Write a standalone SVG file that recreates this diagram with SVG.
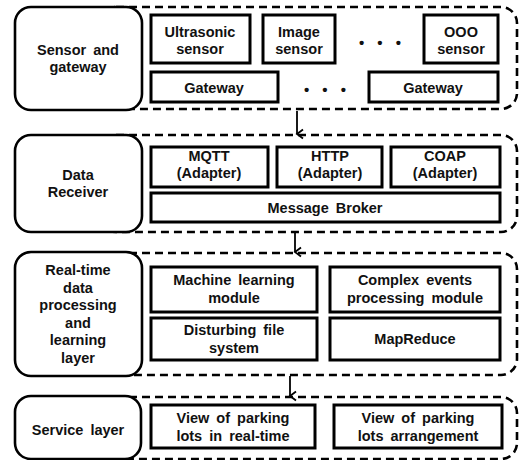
<svg xmlns="http://www.w3.org/2000/svg" width="521" height="460" viewBox="0 0 521 460">
<defs>
<marker id="ah" markerWidth="12" markerHeight="12" refX="6" refY="10" orient="auto" markerUnits="userSpaceOnUse" viewBox="0 0 12 12">
<path d="M1.5,4 L6,10 L10.5,4" fill="none" stroke="#000" stroke-width="1.8"/>
</marker>
</defs>
<style>
.dash{fill:none;stroke:#000;stroke-width:2.6;stroke-dasharray:8 5}
.lay{fill:#fff;stroke:#000;stroke-width:2.6}
.box{fill:#fff;stroke:#000;stroke-width:3}
text{font-family:"Liberation Sans",Arial,sans-serif;font-weight:bold;font-size:14.5px;text-anchor:middle;fill:#111;word-spacing:3px}
.dots{font-size:15px;word-spacing:9px}
.con{fill:none;stroke:#000;stroke-width:1.8}
</style>
<rect width="521" height="460" fill="#fff"/>
<g id="frames">
<rect class="dash" x="100" y="7" width="417" height="102" rx="16"/>
<rect class="dash" x="100" y="135" width="417" height="97" rx="16"/>
<rect class="dash" x="100" y="253" width="417" height="122" rx="16"/>
<rect class="dash" x="100" y="397" width="417" height="62" rx="16"/>
</g>
<g id="connectors">
<line class="con" x1="297" y1="111" x2="297" y2="134" marker-end="url(#ah)"/>
<line class="con" x1="295" y1="233" x2="295" y2="252" marker-end="url(#ah)"/>
<line class="con" x1="290" y1="376" x2="290" y2="396" marker-end="url(#ah)"/>
</g>
<g id="sensor-gateway">
<rect class="lay" x="15" y="7" width="127" height="103" rx="16"/>
<text x="78" y="55">Sensor and</text><text x="78" y="72">gateway</text>
</g>
<g id="ultrasonic"><rect class="box" x="151" y="15" width="99" height="48"/><text x="200" y="37">Ultrasonic</text><text x="200" y="54">sensor</text></g>
<g id="image"><rect class="box" x="263" y="15" width="72" height="48"/><text x="299" y="37">Image</text><text x="299" y="54">sensor</text></g>
<g id="dots1"><text class="dots" x="380" y="48">• • •</text></g>
<g id="ooo"><rect class="box" x="424" y="15" width="74" height="48"/><text x="461" y="37">OOO</text><text x="461" y="54">sensor</text></g>
<g id="gateway1"><rect class="box" x="151" y="72" width="127" height="30"/><text x="214" y="93">Gateway</text></g>
<g id="dots2"><text class="dots" x="325" y="95">• • •</text></g>
<g id="gateway2"><rect class="box" x="369" y="72" width="129" height="30"/><text x="433" y="93">Gateway</text></g>

<g id="data-receiver">
<rect class="lay" x="15" y="135" width="127" height="97" rx="16"/>
<text x="78" y="180">Data</text><text x="78" y="197">Receiver</text>
</g>
<g id="mqtt"><rect class="box" x="151" y="147" width="117" height="40"/><text x="209" y="161">MQTT</text><text x="209" y="178">(Adapter)</text></g>
<g id="http"><rect class="box" x="277" y="147" width="105" height="40"/><text x="330" y="161">HTTP</text><text x="330" y="178">(Adapter)</text></g>
<g id="coap"><rect class="box" x="391" y="147" width="109" height="40"/><text x="445" y="161">COAP</text><text x="445" y="178">(Adapter)</text></g>
<g id="broker"><rect class="box" x="151" y="193" width="349" height="29"/><text x="325" y="213">Message Broker</text></g>

<g id="processing">
<rect class="lay" x="15" y="252" width="127" height="124" rx="16"/>
<text x="78" y="275">Real-time</text><text x="78" y="292.5">data</text><text x="78" y="310">processing</text><text x="78" y="327.5">and</text><text x="78" y="345">learning</text><text x="78" y="362.5">layer</text>
</g>
<g id="ml"><rect class="box" x="151" y="267" width="166" height="45"/><text x="234" y="285">Machine learning</text><text x="234" y="303">module</text></g>
<g id="cep"><rect class="box" x="330" y="267" width="170" height="45"/><text x="415" y="285">Complex events</text><text x="415" y="303">processing module</text></g>
<g id="dfs"><rect class="box" x="151" y="318" width="166" height="42"/><text x="234" y="335">Disturbing file</text><text x="234" y="352.5">system</text></g>
<g id="mapreduce"><rect class="box" x="330" y="318" width="170" height="42"/><text x="415" y="344">MapReduce</text></g>

<g id="service">
<rect class="lay" x="15" y="396" width="126" height="63" rx="16"/>
<text x="78" y="435">Service layer</text>
</g>
<g id="view-rt"><rect class="box" x="151" y="405" width="164" height="43"/><text x="233" y="423">View of parking</text><text x="233" y="440.5">lots in real-time</text></g>
<g id="view-arr"><rect class="box" x="334" y="405" width="168" height="43"/><text x="418" y="423">View of parking</text><text x="418" y="440.5">lots arrangement</text></g>
</svg>
